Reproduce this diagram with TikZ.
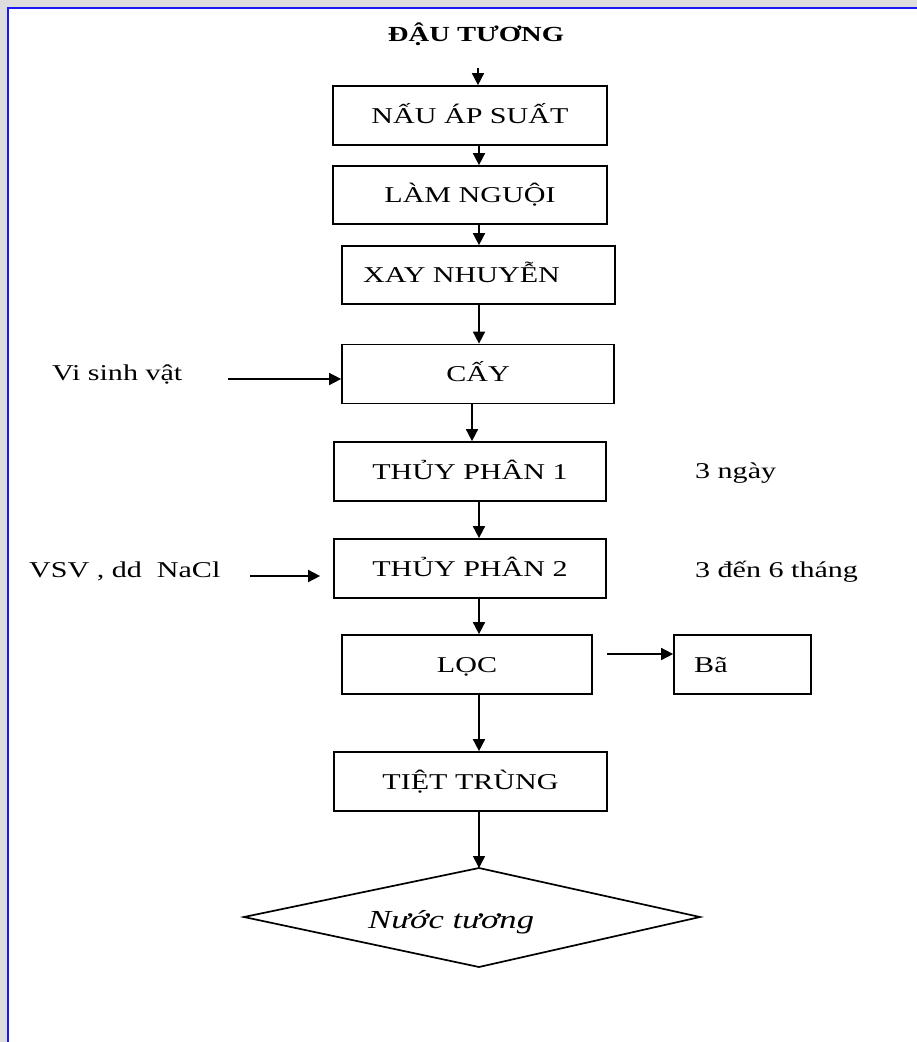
\documentclass[tikz,border=0pt]{standalone}
\usepackage{fontspec}
\setmainfont[FakeStretch=1.33]{Liberation Serif}
\usetikzlibrary{arrows.meta}
\definecolor{bggray}{RGB}{221,221,221}
\definecolor{frameblue}{RGB}{25,25,245}
\begin{document}
\begin{tikzpicture}[x=1pt,y=-1pt,
  captext/.style={inner sep=0pt,font=\fontsize{22.6}{27}\selectfont,text height=15pt,text depth=0pt},
  box/.style={captext,draw,line width=1.7pt,rectangle},
  lbl/.style={inner sep=0pt,font=\fontsize{22.6}{27}\selectfont},
  arr/.style={line width=1.6pt,-{Triangle[length=12pt,width=12pt]}}]
\useasboundingbox (0,0) rectangle (917,1042);
\fill[bggray] (0,0) rectangle (917,1042);
\fill[white] (9,9) rectangle (917,1042);
\draw[frameblue,line width=2.2pt] (8,1042) -- (8,8) -- (917,8);

% title
\node[lbl,font=\bfseries\fontsize{21.5}{26}\selectfont,anchor=base] (title) at (476,41) {ĐẬU TƯƠNG};

% main boxes
\node[box,minimum width=274pt,minimum height=59pt] (b1) at (470,115.5) {NẤU ÁP SUẤT};
\node[box,minimum width=274pt,minimum height=58pt] (b2) at (470,195) {LÀM NGUỘI};
\node[box,minimum width=273pt,minimum height=58pt] (b3) at (478.5,275) {};
\node[captext] (t3) at (461.5,275) {XAY NHUYỄN};
\node[box,minimum width=272pt,minimum height=59pt] (cay) at (478,374) {CẤY};
\node[box,minimum width=272pt,minimum height=59pt] (tp1) at (470,471.5) {THỦY PHÂN 1};
\node[box,minimum width=272pt,minimum height=59pt] (tp2) at (470,568.5) {THỦY PHÂN 2};
\node[box,minimum width=250pt,minimum height=59pt] (loc) at (467,664.5) {LỌC};
\node[box,minimum width=137pt,minimum height=59pt] (ba) at (742.5,664.5) {};
\node[lbl,anchor=base west] (tba) at (694,672) {Bã};
\node[box,minimum width=273pt,minimum height=59pt] (tiet) at (470.5,781.5) {TIỆT TRÙNG};

% side labels
\node[lbl,anchor=base west] (vsv1) at (52,380) {Vi sinh vật};
\node[lbl,anchor=base west] (vsv2) at (29,577) {VSV , dd\ \ NaCl};
\node[lbl,anchor=base west] (d1) at (695,478) {3 ngày};
\node[lbl,anchor=base west] (d2) at (695,577) {3 đến 6 tháng};

% final diamond
\coordinate (dT) at (479,868);
\coordinate (dL) at (244,917);
\coordinate (dR) at (700,917);
\coordinate (dB) at (479,967);
\draw[line width=1.7pt,line join=miter] (dT) -- (dR) -- (dB) -- (dL) -- cycle;
\node[lbl,anchor=base west,font=\itshape\fontsize{26}{30}\selectfont] (nt) at (368,928) {Nước tương};

% connectors
\coordinate (a0) at (478,68);
\coordinate (ax) at (479,0);
\coordinate (axb) at (472,0);
\draw[arr] (a0) -- (a0 |- b1.north);
\draw[arr] (b1.south -| ax) -- (b2.north -| ax);
\draw[arr] (b2.south -| ax) -- (b3.north -| ax);
\draw[arr] (b3.south -| ax) -- (cay.north -| ax);
\draw[arr] (cay.south -| axb) -- (tp1.north -| axb);
\draw[arr] (tp1.south -| ax) -- (tp2.north -| ax);
\draw[arr] (tp2.south -| ax) -- (loc.north -| ax);
\draw[arr] (loc.south -| ax) -- (tiet.north -| ax);
\draw[arr] (tiet.south -| ax) -- (dT);

\coordinate (c1) at (228,379);
\draw[arr] (c1) -- (c1 -| cay.west);
\coordinate (c2) at (250,576);
\draw[arr,shorten >=13pt] (c2) -- (c2 -| tp2.west);
\coordinate (c3) at (0,654);
\draw[arr,shorten <=14pt] (c3 -| loc.east) -- (c3 -| ba.west);
\end{tikzpicture}
\end{document}
